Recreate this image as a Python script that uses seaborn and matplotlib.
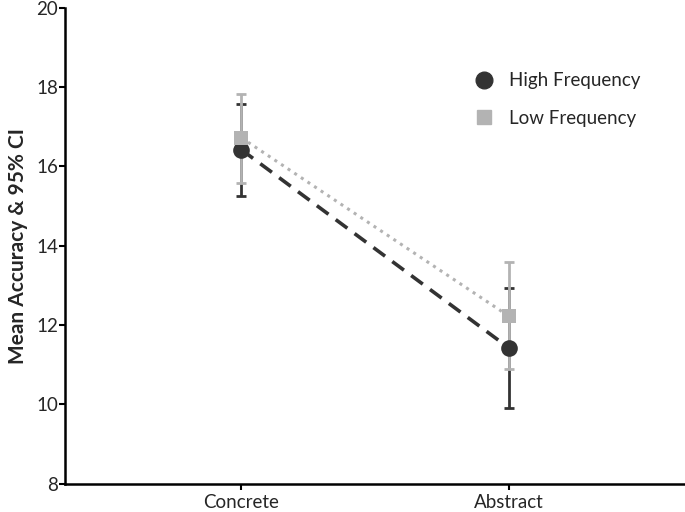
import numpy as np
import pandas as pd
import seaborn as sns
import matplotlib.pyplot as plt
from matplotlib.lines import Line2D

conditions = ["Concrete", "Abstract"]
groups = ["High Frequency", "Low Frequency"]
high_mean = [16.42, 11.43]
high_lo = [15.26, 9.92]
high_hi = [17.58, 12.94]
low_mean = [16.72, 12.23]
low_lo = [15.59, 10.90]
low_hi = [17.83, 13.60]

sns.set_style("ticks")
plt.rcParams['font.family'] = ['Lato', 'DejaVu Sans']

df = pd.DataFrame({
    "condition": conditions * 2,
    "group": [groups[0]] * 2 + [groups[1]] * 2,
    "mean": high_mean + low_mean,
    "lo": high_lo + low_lo,
    "hi": high_hi + low_hi,
})

colors = {"High Frequency": "#333333", "Low Frequency": "#b3b3b3"}
styles = {"High Frequency": ("o", (4, 2.5), 2.6, 12), "Low Frequency": ("s", (1, 1.6), 2.2, 10)}

fig, ax = plt.subplots(figsize=(6.85, 5.12), dpi=100)

for g in groups:
    sub = df[df.group == g]
    x = np.arange(len(conditions))
    yerr = [sub["mean"].values - sub["lo"].values, sub["hi"].values - sub["mean"].values]
    ax.errorbar(x, sub["mean"].values, yerr=yerr, fmt="none", ecolor=colors[g],
                elinewidth=2.0, capsize=3.5, capthick=2.0, zorder=2)
    mk, dash, lw, ms = styles[g]
    sns.lineplot(x=x, y=sub["mean"].values, ax=ax, color=colors[g], lw=lw,
                 marker=mk, markersize=ms, markeredgewidth=0, dashes=False, zorder=3)
    ax.lines[-1].set_dashes(dash)

ax.set_xticks(range(len(conditions)))
ax.set_xticklabels(conditions, fontsize=13.5)
ax.set_xlim(-0.66, 1.66)
ax.set_ylim(8, 20)
ax.set_yticks(range(8, 21, 2))
ax.tick_params(axis="y", labelsize=13.5, width=1.5, length=4, color="black", pad=1)
ax.tick_params(axis="x", width=1.5, length=4, color="black", pad=3)
ax.set_ylabel("Mean Accuracy & 95% CI", fontsize=15, fontweight="bold", labelpad=6)
ax.set_xlabel("")
for s in ["left", "bottom"]:
    ax.spines[s].set_linewidth(1.8)
    ax.spines[s].set_color("black")
sns.despine(ax=ax)

handles = [Line2D([], [], color=colors[groups[0]], marker="o", markersize=12, lw=0),
           Line2D([], [], color=colors[groups[1]], marker="s", markersize=10, lw=0)]
ax.legend(handles, groups, loc="upper right", bbox_to_anchor=(0.955, 0.90), frameon=False,
          fontsize=13.5, handlelength=1.0, handletextpad=0.8, labelspacing=1.1)

fig.subplots_adjust(left=0.095, right=1.0, top=0.985, bottom=0.055)
fig.savefig("out.png", dpi=100)
